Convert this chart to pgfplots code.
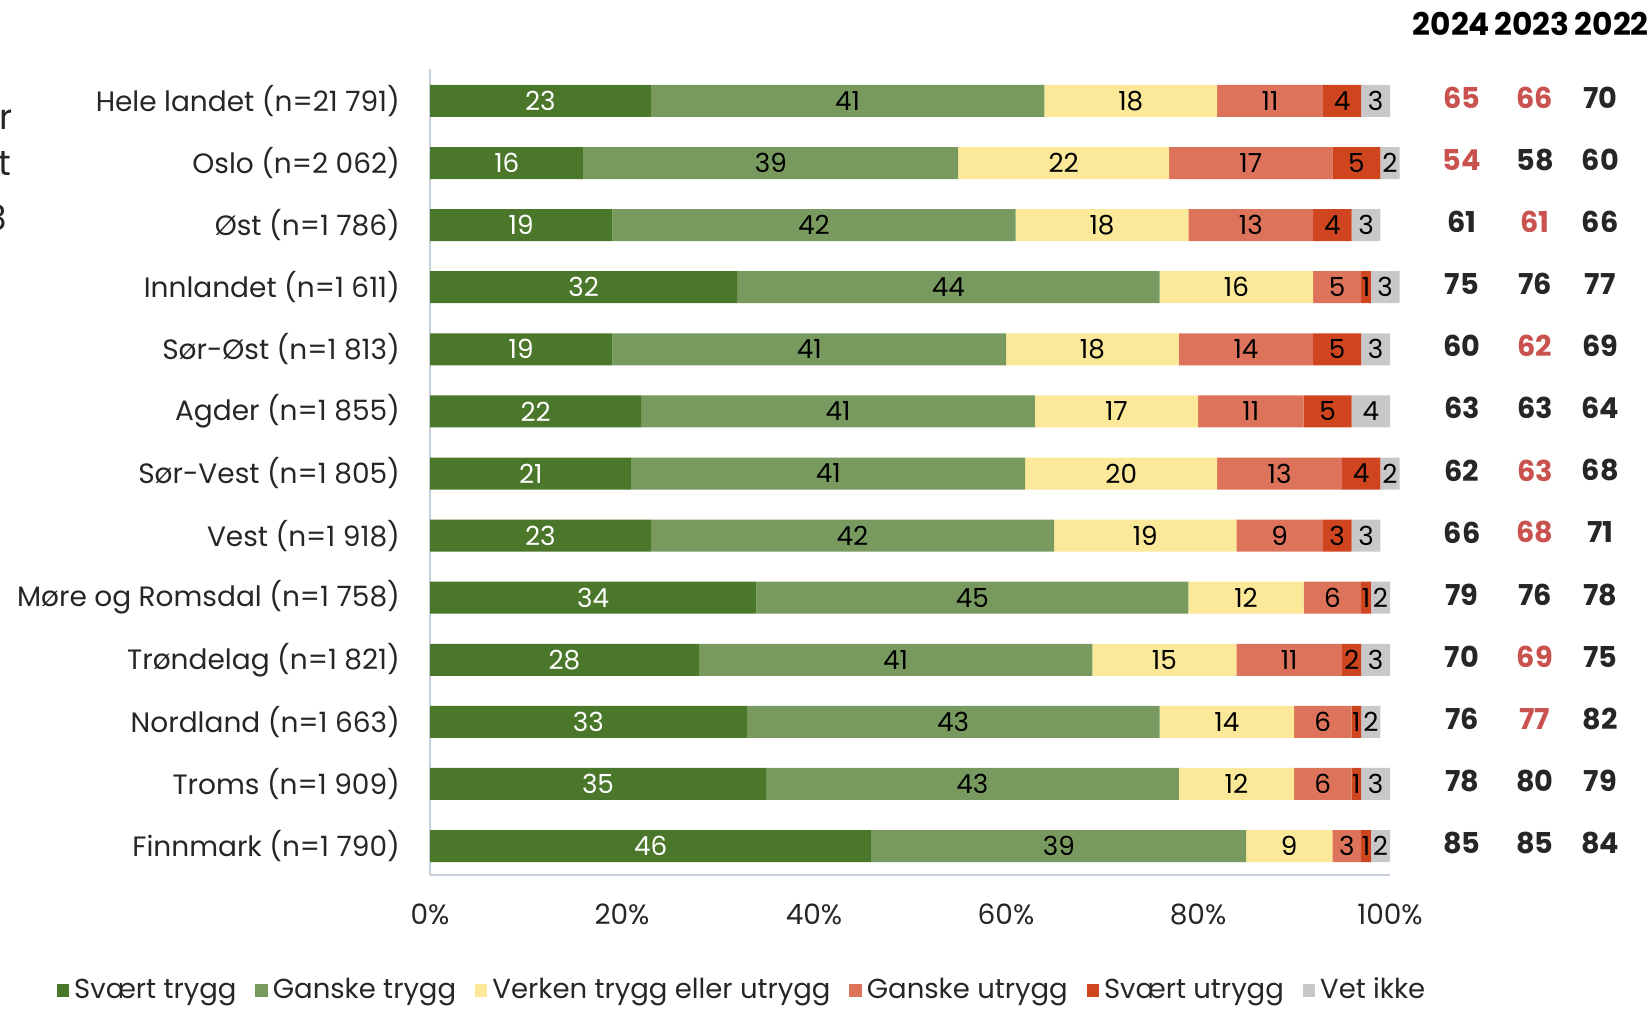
\documentclass[border=0pt]{standalone}
\usepackage{pgfplots}
\pgfplotsset{compat=1.18}
\usepackage{pgfplotstable}
\usepackage{fontspec}
\setmainfont{Poppins}

\definecolor{c1}{HTML}{4A7729}
\definecolor{c2}{HTML}{789A5F}
\definecolor{c3}{HTML}{FBE898}
\definecolor{c4}{HTML}{DD735A}
\definecolor{c5}{HTML}{CF4520}
\definecolor{c6}{HTML}{C8C8C8}
\definecolor{numred}{HTML}{C9524F}
\definecolor{numblk}{HTML}{262626}
\definecolor{axcol}{HTML}{C5D0DC}
\newcommand{\R}[1]{\textcolor{numred}{#1}}

% idx 0 = Hele landet (top)
\pgfplotstableread{
idx st gt vt gu su vi
0  23 41 18 11 4 3
1  16 39 22 17 5 2
2  19 42 18 13 4 3
3  32 44 16 5  1 3
4  19 41 18 14 5 3
5  22 41 17 11 5 4
6  21 41 20 13 4 2
7  23 42 19 9  3 3
8  34 45 12 6  1 2
9  28 41 15 11 2 3
10 33 43 14 6  1 2
11 35 43 12 6  1 3
12 46 39 9  3  1 2
}\tryggdata

\pgfplotsset{
  frame/.style={
    at={(172pt,54.4pt)}, anchor=south west,
    scale only axis, width=384pt, height=322.4pt,
    xmin=0, xmax=100, ymin=-0.515, ymax=12.467, y dir=reverse,
    clip=false,
    /pgf/number format/assume math mode=true,
  },
  barlbl/.style={draw=none, mark=none, nodes near coords,
    nodes near coords style={anchor=center, font=\fontsize{10.5}{11}\selectfont, text=#1}},
}

\begin{document}
\begin{tikzpicture}[x=1pt,y=1pt]
\path[use as bounding box] (0,0) rectangle (660,404.4);

% cut-off text at the left edge
\node[anchor=base east, inner sep=0pt, text=numblk, font=\fontsize{14}{14}\selectfont] at (5.2,352.4) {r};
\node[anchor=base east, inner sep=0pt, text=numblk, font=\fontsize{14}{14}\selectfont] at (4.8,334) {t};
\node[anchor=base east, inner sep=0pt, text=numblk, font=\fontsize{14}{14}\selectfont] at (3.2,312) {3};

\begin{axis}[
  frame,
  xbar stacked, bar width=12.8pt,
  axis x line*=bottom, axis y line*=left,
  axis line style={-, draw=axcol, line width=0.8pt},
  major tick length=0pt,
  ytick={0,...,12},
  yticklabels={Hele landet (n=21 791), Oslo (n=2 062), Øst (n=1 786),
    Innlandet (n=1 611), Sør-Øst (n=1 813), Agder (n=1 855),
    Sør-Vest (n=1 805), Vest (n=1 918), Møre og Romsdal (n=1 758),
    Trøndelag (n=1 821), Nordland (n=1 663), Troms (n=1 909),
    Finnmark (n=1 790)},
  yticklabel style={font=\fontsize{11.2}{12}\selectfont, text=numblk, xshift=-8.5pt},
  xtick={0,20,40,60,80,100},
  xticklabels={0\%,20\%,40\%,60\%,80\%,100\%},
  xticklabel style={font=\fontsize{11.2}{12}\selectfont, text=numblk, yshift=-8pt},
  legend columns=6,
  legend style={at={(0.3266,-0.143)}, anchor=center, draw=none, fill=none,
    font=\fontsize{11}{12}\selectfont, text=numblk,
    /tikz/every even column/.append style={column sep=5.5pt}},
  legend image code/.code={\path[#1, draw=none] (0pt,-2.8pt) rectangle (5pt,2.4pt);},
]
\addplot[fill=c1, draw=none] table[x=st, y=idx] \tryggdata;
\addplot[fill=c2, draw=none] table[x=gt, y=idx] \tryggdata;
\addplot[fill=c3, draw=none] table[x=vt, y=idx] \tryggdata;
\addplot[fill=c4, draw=none] table[x=gu, y=idx] \tryggdata;
\addplot[fill=c5, draw=none] table[x=su, y=idx] \tryggdata;
\addplot[fill=c6, draw=none] table[x=vi, y=idx] \tryggdata;
\legend{Svært trygg, Ganske trygg, Verken trygg eller utrygg, Ganske utrygg, Svært utrygg, Vet ikke}
\end{axis}

\begin{axis}[frame, hide axis]
% value labels centred in each segment
\addplot[barlbl=white] table[x expr=\thisrow{st}/2, y=idx, meta=st, point meta=explicit] \tryggdata;
\addplot[barlbl=black] table[x expr=\thisrow{st}+\thisrow{gt}/2, y=idx, meta=gt, point meta=explicit] \tryggdata;
\addplot[barlbl=black] table[x expr=\thisrow{st}+\thisrow{gt}+\thisrow{vt}/2, y=idx, meta=vt, point meta=explicit] \tryggdata;
\addplot[barlbl=black] table[x expr=\thisrow{st}+\thisrow{gt}+\thisrow{vt}+\thisrow{gu}/2, y=idx, meta=gu, point meta=explicit] \tryggdata;
\addplot[barlbl=black] table[x expr=\thisrow{st}+\thisrow{gt}+\thisrow{vt}+\thisrow{gu}+\thisrow{su}/2, y=idx, meta=su, point meta=explicit] \tryggdata;
\addplot[barlbl=black] table[x expr=\thisrow{st}+\thisrow{gt}+\thisrow{vt}+\thisrow{gu}+\thisrow{su}+\thisrow{vi}/2, y=idx, meta=vi, point meta=explicit] \tryggdata;

% year headers
\addplot[draw=none, mark=none, nodes near coords, point meta=explicit symbolic,
  nodes near coords style={anchor=center, text=black, font=\bfseries\fontsize{12.5}{13}\selectfont}]
  coordinates {(106.4,-1.24) [2024] (114.8,-1.24) [2023] (123.1,-1.24) [2022]};

% index columns
\addplot[draw=none, mark=none, nodes near coords, point meta=explicit symbolic,
  nodes near coords style={anchor=center, text=numblk, font=\bfseries\fontsize{11.5}{12}\selectfont}]
  coordinates {
  (107.5,-0.05) [\R{65}] (107.5,0.95) [\R{54}] (107.5,1.95) [61] (107.5,2.95) [75]
  (107.5,3.95) [60] (107.5,4.95) [63] (107.5,5.95) [62] (107.5,6.95) [66]
  (107.5,7.95) [79] (107.5,8.95) [70] (107.5,9.95) [76] (107.5,10.95) [78] (107.5,11.95) [85]
  };
\addplot[draw=none, mark=none, nodes near coords, point meta=explicit symbolic,
  nodes near coords style={anchor=center, text=numblk, font=\bfseries\fontsize{11.5}{12}\selectfont}]
  coordinates {
  (115.1,-0.05) [\R{66}] (115.1,0.95) [58] (115.1,1.95) [\R{61}] (115.1,2.95) [76]
  (115.1,3.95) [\R{62}] (115.1,4.95) [63] (115.1,5.95) [\R{63}] (115.1,6.95) [\R{68}]
  (115.1,7.95) [76] (115.1,8.95) [\R{69}] (115.1,9.95) [\R{77}] (115.1,10.95) [80] (115.1,11.95) [85]
  };
\addplot[draw=none, mark=none, nodes near coords, point meta=explicit symbolic,
  nodes near coords style={anchor=center, text=numblk, font=\bfseries\fontsize{11.5}{12}\selectfont}]
  coordinates {
  (121.9,-0.05) [70] (121.9,0.95) [60] (121.9,1.95) [66] (121.9,2.95) [77]
  (121.9,3.95) [69] (121.9,4.95) [64] (121.9,5.95) [68] (121.9,6.95) [71]
  (121.9,7.95) [78] (121.9,8.95) [75] (121.9,9.95) [82] (121.9,10.95) [79] (121.9,11.95) [84]
  };
\end{axis}
\end{tikzpicture}
\end{document}
